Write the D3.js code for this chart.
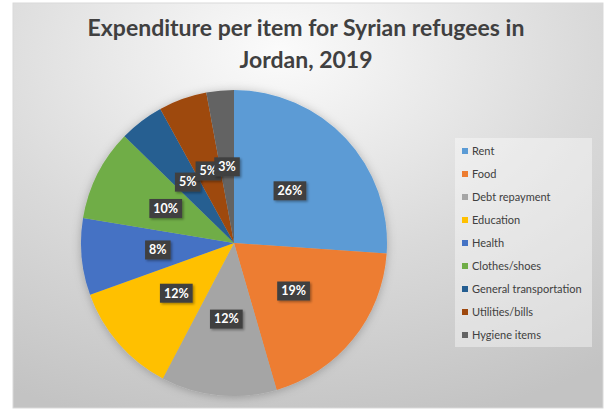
<!DOCTYPE html>
<html>
<head>
<meta charset="utf-8">
<script src="https://cdn.jsdelivr.net/npm/d3@7"></script>
<style>
  html, body { margin: 0; padding: 0; background: #fff; }
  svg { display: block; }
</style>
</head>
<body>
<div id="chart"></div>
<script>
// Data
const categories = ['Rent', 'Food', 'Debt repayment', 'Education', 'Health',
  'Clothes/shoes', 'General transportation', 'Utilities/bills', 'Hygiene items'];
const shares = [26.1, 19.4, 12.2, 11.8, 8.1, 9.7, 4.7, 5.1, 2.9];
const sliceColors = ['#5B9BD5', '#ED7D31', '#A5A5A5', '#FFC000', '#4472C4',
  '#70AD47', '#255E91', '#9E480E', '#636363'];
const titleLines = ['Expenditure per item for Syrian refugees in', 'Jordan, 2019'];

const width = 605, height = 409;
const frame = { x: 13, y: 3, w: 590, h: 405 };

const svg = d3.select('#chart').append('svg')
  .attr('width', width)
  .attr('height', height);

const defs = svg.append('defs');

// background gradient, light near the title, grey at the corners
const bg = defs.append('radialGradient')
  .attr('id', 'bg')
  .attr('cx', '45%').attr('cy', '12%')
  .attr('r', '95%');
bg.append('stop').attr('offset', '0%').attr('stop-color', '#fbfbfb');
bg.append('stop').attr('offset', '55%').attr('stop-color', '#dadada');
bg.append('stop').attr('offset', '100%').attr('stop-color', '#c3c3c3');

const pieShadow = defs.append('filter').attr('id', 'pieShadow')
  .attr('x', '-20%').attr('y', '-20%').attr('width', '140%').attr('height', '140%');
pieShadow.append('feDropShadow')
  .attr('dx', 0).attr('dy', 1).attr('stdDeviation', 5)
  .attr('flood-color', '#000').attr('flood-opacity', 0.25);

const labelShadow = defs.append('filter').attr('id', 'labelShadow')
  .attr('x', '-30%').attr('y', '-30%').attr('width', '160%').attr('height', '160%');
labelShadow.append('feDropShadow')
  .attr('dx', 1.5).attr('dy', 1.5).attr('stdDeviation', 1)
  .attr('flood-color', '#000').attr('flood-opacity', 0.35);

svg.append('rect')
  .attr('x', frame.x).attr('y', frame.y)
  .attr('width', frame.w).attr('height', frame.h)
  .attr('fill', 'url(#bg)')
  .attr('stroke', '#d9d9d9')
  .attr('stroke-width', 1);

// title
const title = svg.append('text')
  .attr('text-anchor', 'middle')
  .attr('font-family', 'Lato, "Open Sans", sans-serif')
  .attr('font-weight', 'bold')
  .attr('font-size', 23)
  .attr('fill', '#404040');
title.selectAll('tspan')
  .data(titleLines)
  .join('tspan')
  .attr('x', 306)
  .attr('y', (d, i) => 36 + i * 32)
  .text(d => d);

// pie
const cx = 234, cy = 243, radius = 153;
const total = d3.sum(shares);
const pie = d3.pie().sort(null).value(d => d)(shares);
const arc = d3.arc().innerRadius(0).outerRadius(radius);

const g = svg.append('g').attr('transform', `translate(${cx},${cy})`);

g.append('g')
  .attr('filter', 'url(#pieShadow)')
  .selectAll('path')
  .data(pie)
  .join('path')
  .attr('d', arc)
  .attr('fill', (d, i) => sliceColors[i]);

// data labels in dark boxes
const labels = g.selectAll('g.lbl')
  .data(pie)
  .join('g')
  .attr('class', 'lbl')
  .attr('transform', d => `translate(${arc.centroid(d)})`);

labels.append('text')
  .attr('text-anchor', 'middle')
  .attr('dy', '0.35em')
  .attr('font-family', 'Lato, "Open Sans", sans-serif')
  .attr('font-weight', 'bold')
  .attr('font-size', 12.5)
  .attr('fill', '#fff')
  .text(d => Math.round(d.value / total * 100) + '%');

labels.each(function () {
  const grp = d3.select(this);
  const bb = grp.select('text').node().getBBox();
  grp.insert('rect', 'text')
    .attr('x', bb.x - 4)
    .attr('y', -9.5)
    .attr('width', bb.width + 8)
    .attr('height', 19)
    .attr('fill', '#404040')
    .attr('filter', 'url(#labelShadow)');
});

// legend
const legend = svg.append('g');
legend.append('rect')
  .attr('x', 455).attr('y', 138)
  .attr('width', 137).attr('height', 209)
  .attr('fill', '#fff')
  .attr('fill-opacity', 0.4);

const legendY = d3.scalePoint()
  .domain(categories)
  .range([151, 335]);

const item = legend.selectAll('g.item')
  .data(categories)
  .join('g')
  .attr('class', 'item')
  .attr('transform', d => `translate(462,${legendY(d)})`);

item.append('rect')
  .attr('x', 0).attr('y', -3)
  .attr('width', 6).attr('height', 6)
  .attr('fill', (d, i) => sliceColors[i]);

item.append('text')
  .attr('x', 10)
  .attr('dy', '0.35em')
  .attr('font-family', 'Lato, "Open Sans", sans-serif')
  .attr('font-size', 11)
  .attr('fill', '#404040')
  .text(d => d);
</script>
</body>
</html>
